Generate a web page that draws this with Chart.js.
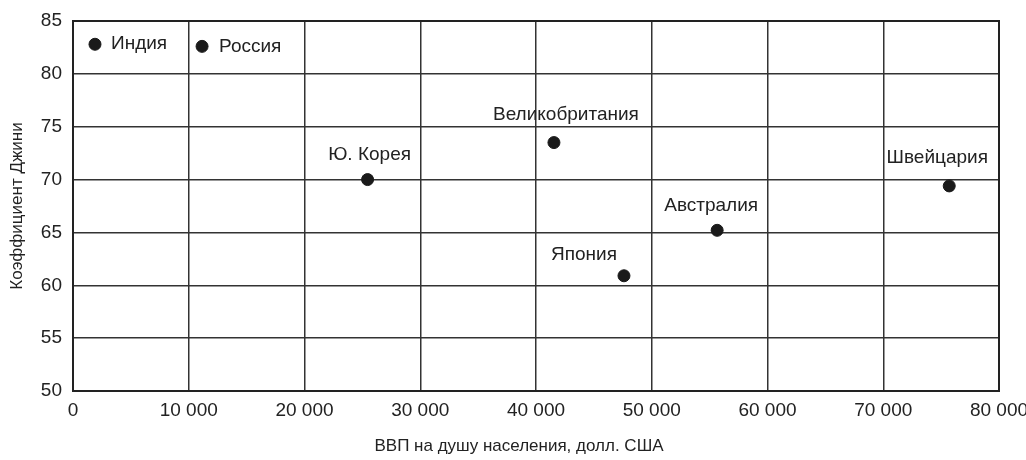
<!DOCTYPE html>
<html>
<head>
<meta charset="utf-8">
<script src="https://cdn.jsdelivr.net/npm/chart.js@4"></script>
<style>
  body { margin: 0; background: #fff; }
  #wrap { width: 1026px; height: 460px; }
</style>
</head>
<body>
<div id="wrap"><canvas id="grafico"></canvas></div>
<script>
"use strict";
// Dados
const paises = ["Индия", "Россия", "Ю. Корея", "Великобритания", "Япония", "Австралия", "Швейцария"];
const vvp = [1900, 11150, 25450, 41550, 47600, 55650, 75700];
const gini = [82.8, 82.6, 70, 73.5, 60.9, 65.2, 69.4];
const xTicks = [0, 10000, 20000, 30000, 40000, 50000, 60000, 70000, 80000];
const tituloX = "ВВП на душу населения, долл. США";

// posição das legendas de cada ponto: [dx, dy, align]
const posLegenda = [
  [16, 0, "left"],
  [17, 0, "left"],
  [2, -25, "center"],
  [12, -28, "center"],
  [-40, -21, "center"],
  [-6, -25, "center"],
  [-12, -28, "center"],
];

const fonte = "'Liberation Sans', Arial, sans-serif";

const pontos = vvp.map((v, i) => ({ x: v, y: gini[i] }));

const legendas = {
  id: "legendas",
  afterDatasetsDraw(chart) {
    const ctx = chart.ctx;
    const meta = chart.getDatasetMeta(0);
    ctx.save();
    ctx.font = "19px " + fonte;
    ctx.fillStyle = "#222";
    ctx.textBaseline = "middle";
    meta.data.forEach((p, i) => {
      const [dx, dy, al] = posLegenda[i];
      ctx.textAlign = al;
      ctx.fillText(paises[i], p.x + dx, p.y + dy);
    });
    ctx.restore();
  },
};

// moldura do gráfico + título do eixo x (um pouco à esquerda do centro)
const moldura = {
  id: "moldura",
  afterDraw(chart) {
    const a = chart.chartArea;
    const ctx = chart.ctx;
    ctx.save();
    ctx.strokeStyle = "#222";
    ctx.lineWidth = 2;
    ctx.strokeRect(a.left, a.top, a.right - a.left, a.bottom - a.top);
    ctx.font = "17px " + fonte;
    ctx.fillStyle = "#222";
    ctx.textAlign = "center";
    ctx.textBaseline = "middle";
    ctx.fillText(tituloX, (a.left + a.right) / 2 - 17, chart.height - 14);
    ctx.restore();
  },
};

new Chart(document.getElementById("grafico"), {
  type: "scatter",
  data: {
    datasets: [{
      data: pontos,
      backgroundColor: "#1a1a1a",
      borderColor: "#1a1a1a",
      pointRadius: 6,
      pointHoverRadius: 6,
    }],
  },
  options: {
    responsive: true,
    maintainAspectRatio: false,
    animation: false,
    layout: { padding: { top: 21, right: 27, left: 0, bottom: 0 } },
    plugins: { legend: { display: false }, tooltip: { enabled: false } },
    scales: {
      x: {
        type: "linear",
        min: 0,
        max: 80000,
        afterBuildTicks: (s) => { s.ticks = xTicks.map(v => ({ value: v })); },
        afterFit: (s) => { s.height = 69; s.paddingLeft = 0; s.paddingRight = 0; },
        grid: { color: "#333", lineWidth: 1.5, drawTicks: false },
        border: { display: false },
        ticks: {
          padding: 8,
          color: "#222",
          font: { family: fonte, size: 19 },
          maxRotation: 0,
          callback: (v) => v === 0 ? "0" : String(v).replace(/\B(?=(\d{3})+(?!\d))/g, " "),
        },
      },
      y: {
        min: 50,
        max: 85,
        afterFit: (s) => { s.width = 73; s.paddingTop = 0; s.paddingBottom = 0; },
        grid: { color: "#333", lineWidth: 1.5, drawTicks: false },
        border: { display: false },
        ticks: {
          stepSize: 5,
          padding: 11,
          color: "#222",
          font: { family: fonte, size: 19 },
        },
        title: {
          display: true,
          text: "Коэффициент Джини",
          color: "#222",
          font: { family: fonte, size: 17 },
          padding: { top: 7, bottom: 0 },
        },
      },
    },
  },
  plugins: [legendas, moldura],
});
</script>
</body>
</html>
